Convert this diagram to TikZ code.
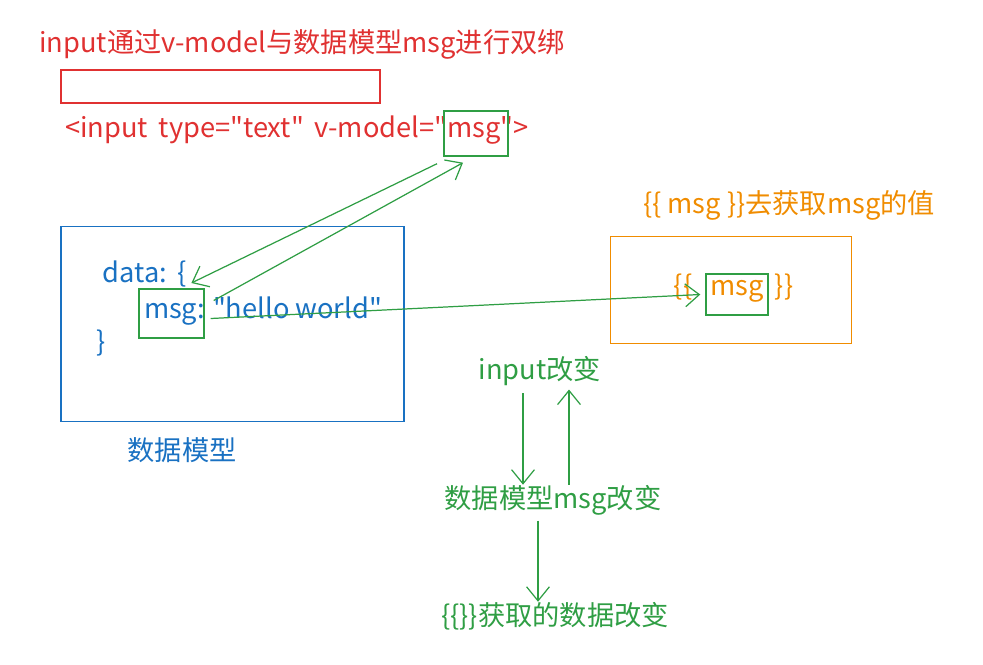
\documentclass[tikz,border=0pt]{standalone}
\usepackage{fontspec}
\setmainfont{Noto Sans CJK SC}[Ligatures=TeXOff]
\usetikzlibrary{arrows.meta}
\definecolor{xred}{HTML}{E03131}
\definecolor{xblue}{HTML}{1971C2}
\definecolor{xorange}{HTML}{F08C00}
\definecolor{xgreen}{HTML}{2F9E44}
\newcommand{\txtsize}{\fontsize{15.5}{18}\selectfont}
\newcommand{\gap}{\hspace{6pt}}
\tikzset{
  txt/.style={inner sep=0pt, font=\txtsize},
  redtxt/.style={txt, text=xred},
  bluetxt/.style={txt, text=xblue},
  orangetxt/.style={txt, text=xorange},
  greentxt/.style={txt, text=xgreen},
  frame/.style={draw, line width=0.8pt, inner sep=0pt},
  hlbox/.style={frame, draw=xgreen},
  link/.style={draw=xgreen, line width=0.7pt, -{Straight Barb[length=8pt,width=13pt]}}
}

\begin{document}
\begin{tikzpicture}[x=0.02cm, y=-0.02cm]
\useasboundingbox (0,0) rectangle (983,664);

% input part
\node[redtxt] at (302,44) (title) {input通过v-model与数据模型msg进行双绑};
\node[frame, draw=xred, minimum width=6.38cm, minimum height=0.66cm] at (220.5,86.5) (inputbox) {};
\node[redtxt] at (297,130) (code) {<input\gap type="text"\gap v-model="msg">};
\node[hlbox, minimum width=1.28cm, minimum height=0.9cm] at (476,133.5) (hlin) {};

% data model
\node[frame, draw=xblue, minimum width=6.86cm, minimum height=3.9cm] at (232.5,324) (model) {};
\node[bluetxt] at (145,274) (dataopen) {data:\gap\{};
\node[bluetxt] at (263,311) (msgline) {msg: "hello world"};
\node[bluetxt] at (101,343) (dataclose) {\}};
\node[hlbox, minimum width=1.3cm, minimum height=0.98cm] at (171.5,313.5) (hlmsg) {};
\node[bluetxt] at (182,450) (modelname) {数据模型};

% view part
\node[orangetxt] at (789,205) (viewtitle) {\{\{ msg \}\}去获取msg的值};
\node[frame, draw=xorange, minimum width=4.82cm, minimum height=2.14cm] at (731,290) (view) {};
\node[orangetxt] at (683,287) (lbrace) {\{\{};
\node[orangetxt] at (737,291) (viewmsg) {msg};
\node[orangetxt] at (784,287) (rbrace) {\}\}};
\node[hlbox, minimum width=1.24cm, minimum height=0.82cm] at (737,294.5) (hlout) {};

% flow
\node[greentxt] at (540,371) (inchg) {input改变};
\node[greentxt] at (553,500) (datachg) {数据模型msg改变};
\node[greentxt] at (555,616) (viewchg) {\{\{\}\}获取的数据改变};

\draw[link] ([shift={(-39,7)}]hlin.south) -- ([shift={(4,9)}]dataopen.east);
\draw[link] ([shift={(9,-13)}]hlmsg.east) -- ([shift={(-13,6)}]hlin.south);
\draw[link] ([shift={(6,5)}]hlmsg.east) -- ([shift={(-5,0)}]hlout.west);
\draw[link, shorten <=4pt] ([shift={(-17,0)}]inchg.south) -- ([shift={(-30,0)}]datachg.north);
\draw[link, shorten >=2pt] ([shift={(16,0)}]datachg.north) -- ([shift={(29,0)}]inchg.south);
\draw[link, shorten <=3pt] ([shift={(-15,0)}]datachg.south) -- ([shift={(-17,0)}]viewchg.north);
\end{tikzpicture}
\end{document}
